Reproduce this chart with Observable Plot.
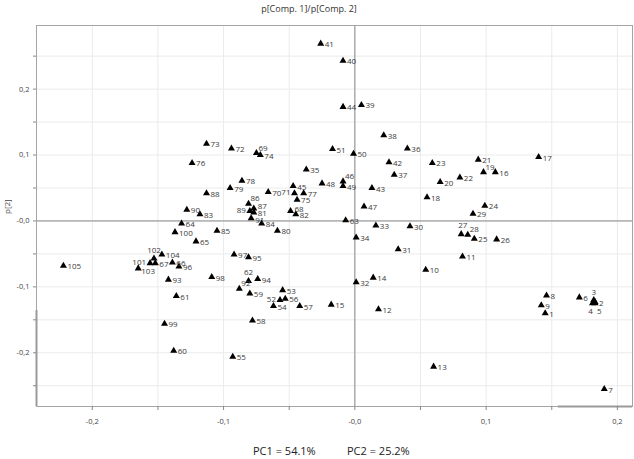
<!DOCTYPE html>
<html>
<head>
<meta charset="utf-8">
<script src="https://cdn.jsdelivr.net/npm/d3@7"></script>
<script src="https://cdn.jsdelivr.net/npm/@observablehq/plot@0.6"></script>
<style>
  html, body { margin: 0; padding: 0; background: #fff; }
  #wrap { position: relative; width: 634px; height: 459px; overflow: hidden; font-family: "Open Sans", sans-serif; }
  #title { position: absolute; top: 2px; left: 0; width: 618px; text-align: center; font-size: 9px; color: #333; }
  #chart { position: absolute; top: 20px; left: 0; }
  .cap { position: absolute; top: 443px; font-size: 11px; color: #222; white-space: pre; }
</style>
</head>
<body>
<div id="wrap">
  <div id="title"></div>
  <div id="chart"></div>
  <span class="cap" id="cap1" style="left:253px"></span>
  <span class="cap" id="cap2" style="left:347px"></span>
</div>
<script>
// ---- data ----
const ids = [1,2,3,4,5,6,7,8,9,10,11,12,13,14,15,16,17,18,19,20,21,22,23,24,25,26,27,28,29,30,
  31,32,33,34,35,36,37,38,39,40,41,42,43,44,45,46,47,48,49,50,51,52,53,54,55,56,57,58,59,60,
  61,62,63,64,65,66,67,68,69,70,71,72,73,74,75,76,77,78,79,80,81,82,83,84,85,86,87,88,89,90,
  91,92,93,94,95,96,97,98,99,100,101,102,103,104,105];
const pc1 = [0.145,0.183,0.182,0.181,0.183,0.171,0.190,0.146,0.142,0.054,
  0.082,0.018,0.060,0.014,-0.018,0.107,0.140,0.055,0.098,0.065,
  0.094,0.080,0.059,0.099,0.091,0.108,0.081,0.086,0.090,0.042,
  0.033,0.001,0.016,0.001,-0.037,0.040,0.030,0.022,0.005,-0.009,
  -0.026,0.026,0.013,-0.009,-0.047,-0.009,0.007,-0.025,-0.009,-0.001,
  -0.017,-0.057,-0.055,-0.062,-0.093,-0.053,-0.042,-0.078,-0.080,-0.138,
  -0.136,-0.081,-0.007,-0.132,-0.121,-0.139,-0.152,-0.049,-0.075,-0.066,
  -0.046,-0.094,-0.113,-0.072,-0.044,-0.124,-0.039,-0.086,-0.095,-0.059,
  -0.077,-0.045,-0.118,-0.071,-0.105,-0.081,-0.077,-0.113,-0.080,-0.128,
  -0.079,-0.088,-0.142,-0.074,-0.081,-0.134,-0.092,-0.109,-0.145,-0.137,
  -0.156,-0.153,-0.165,-0.147,-0.222];
const pc2 = [-0.140,-0.123,-0.120,-0.125,-0.125,-0.116,-0.255,-0.113,-0.128,-0.074,
  -0.054,-0.134,-0.221,-0.086,-0.127,0.074,0.097,0.036,0.074,0.059,
  0.093,0.066,0.088,0.023,-0.027,-0.028,-0.020,-0.021,0.011,-0.008,
  -0.043,-0.093,-0.007,-0.025,0.078,0.110,0.070,0.130,0.176,0.243,
  0.269,0.089,0.050,0.173,0.053,0.060,0.022,0.057,0.053,0.102,
  0.109,-0.120,-0.105,-0.129,-0.206,-0.118,-0.129,-0.151,-0.110,-0.197,
  -0.114,-0.091,0.001,-0.004,-0.031,-0.063,-0.064,0.015,0.103,0.044,
  0.042,0.110,0.117,0.100,0.032,0.088,0.042,0.061,0.050,-0.015,
  0.013,0.010,0.010,-0.004,-0.015,0.026,0.019,0.042,0.015,0.017,
  0.004,-0.103,-0.089,-0.088,-0.055,-0.069,-0.051,-0.085,-0.156,-0.017,
  -0.064,-0.057,-0.072,-0.051,-0.068];
const xLabelTicks = [-0.2, -0.1, 0, 0.1, 0.2];
const yLabelTicks = [-0.2, -0.1, 0, 0.1, 0.2];
const xMinorTicks = [-0.2, -0.15, -0.1, -0.05, 0, 0.05, 0.1, 0.15, 0.2];
const yMinorTicks = [-0.25, -0.2, -0.15, -0.1, -0.05, 0, 0.05, 0.1, 0.15, 0.2, 0.25];
const titleText = "p[Comp. 1]/p[Comp. 2]";
const yLabel = "p[2]";
const caption1 = "PC1 = 54.1%";
const caption2 = "PC2 = 25.2%";

// label placement (style only)
const placement = {
  62: "top", 102: "top", 27: "topLeft", 3: "top",
  92: "topRight", 69: "topRight", 86: "topRight", 46: "topRight", 28: "topRight", 19: "topRight",
  87: "rightUp", 68: "rightUp", 91: "rightDown",
  52: "left", 101: "left", 71: "left", 89: "left",
  4: "bottom", 5: "bottomRight", 103: "belowRight"
};
const placeStyle = {
  right:      {dx: 4,  dy: 1,  textAnchor: "start"},
  rightUp:    {dx: 4,  dy: -2, textAnchor: "start"},
  rightDown:  {dx: 4,  dy: 2,  textAnchor: "start"},
  left:       {dx: -4, dy: -1, textAnchor: "end"},
  top:        {dx: 0,  dy: -8, textAnchor: "middle"},
  topLeft:    {dx: -3, dy: -9, textAnchor: "start"},
  topRight:   {dx: 2,  dy: -5, textAnchor: "start"},
  bottom:     {dx: -2, dy: 8,  textAnchor: "middle"},
  bottomRight:{dx: 2,  dy: 8,  textAnchor: "start"},
  belowRight: {dx: 3,  dy: 3,  textAnchor: "start"}
};

const data = ids.map((id, i) => ({id, x: pc1[i], y: pc2[i], place: placement[id] || "right"}));

const fmt = d => Math.abs(d) < 1e-9 ? "-0,0" : d.toFixed(1).replace(".", ",");

document.getElementById("title").textContent = titleText;
document.getElementById("cap1").textContent = caption1;
document.getElementById("cap2").textContent = caption2;

const labelMarks = Object.entries(placeStyle).map(([key, s]) =>
  Plot.text(data.filter(d => d.place === key), {
    x: "x", y: "y", text: d => String(d.id),
    dx: s.dx, dy: s.dy, textAnchor: s.textAnchor,
    fill: "#3a3a3a", fontSize: 8
  })
);

const xDomain = [-0.2425, 0.2115];
const yDomain = [-0.2815, 0.2965];

const chart = Plot.plot({
  width: 634,
  height: 415,
  marginLeft: 36,
  marginRight: 2,
  marginTop: 5,
  marginBottom: 29,
  style: {fontFamily: "Open Sans, sans-serif", background: "white"},
  x: {domain: xDomain},
  y: {domain: yDomain},
  marks: [
    Plot.gridX(xMinorTicks, {stroke: "#ebebeb", strokeOpacity: 1}),
    Plot.gridY(yMinorTicks, {stroke: "#ebebeb", strokeOpacity: 1}),
    Plot.ruleX([0], {stroke: "#8a8a8a"}),
    Plot.ruleY([0], {stroke: "#8a8a8a"}),
    Plot.frame({stroke: "#a5a5a5"}),
    // darker, heavier border segments seen at the lower-left and lower-right of the frame
    Plot.ruleX([xDomain[0]], {y1: -0.136, y2: yDomain[0], stroke: "#9a9a9a", strokeWidth: 2}),
    Plot.ruleY([yDomain[0]], {x1: 0.155, x2: xDomain[1], stroke: "#9a9a9a", strokeWidth: 2}),
    Plot.axisX(xMinorTicks, {tickSize: 4, tickFormat: () => "", stroke: "#888", label: null}),
    Plot.axisY(yMinorTicks, {tickSize: 3, tickFormat: () => "", stroke: "#888", label: null}),
    Plot.axisX(xLabelTicks, {tickSize: 0, tickPadding: 12, tickFormat: fmt, fontSize: 7.5, fill: "#444", label: null}),
    Plot.axisY(yLabelTicks, {tickSize: 0, tickPadding: 7, tickFormat: fmt, fontSize: 7.5, fill: "#444", label: null}),
    Plot.text([yLabel], {frameAnchor: "left", text: d => d, rotate: -90, dx: -29, dy: -2, fontSize: 8, fill: "#444"}),
    Plot.dot(data, {x: "x", y: "y", symbol: "triangle", r: 2.6, fill: "black", stroke: null}),
    ...labelMarks
  ]
});
document.getElementById("chart").appendChild(chart);
</script>
</body>
</html>
